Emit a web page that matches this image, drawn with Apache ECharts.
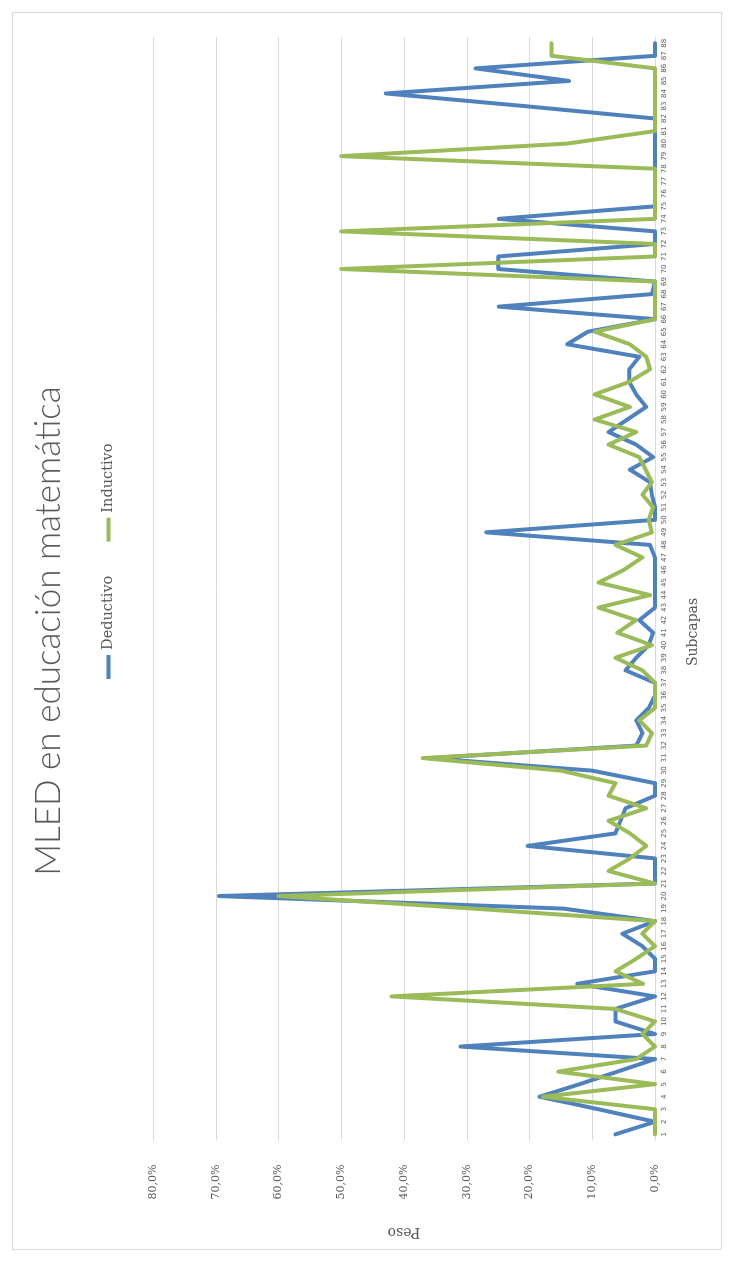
<!DOCTYPE html>
<html><head><meta charset="utf-8">
<script src="https://cdn.jsdelivr.net/npm/echarts@6/dist/echarts.min.js"></script>
<style>
html,body{margin:0;padding:0;background:#fff;overflow:hidden;width:734px;height:1262px;}
#wrap{position:absolute;left:0;top:0;width:1262px;height:734px;transform-origin:0 0;transform:translateY(1262px) rotate(-90deg);}
#chart{width:1262px;height:734px;}
</style></head><body><div id="wrap"><div id="chart"></div></div>
<script>
const titleText = 'MLED en educación matemática';
const seriesNames = ['Deductivo', 'Inductivo'];
const categoryAxisName = 'Subcapas';
const valueAxisName = 'Peso';
const categories = ['1','2','3','4','5','6','7','8','9','10','11','12','13','14','15','16','17','18','19','20',
  '21','22','23','24','25','26','27','28','29','30','31','32','33','34','35','36','37','38','39','40',
  '41','42','43','44','45','46','47','48','49','50','51','52','53','54','55','56','57','58','59','60',
  '61','62','63','64','65','66','67','68','69','70','71','72','73','74','75','76','77','78','79','80',
  '81','82','83','84','85','86','87','88'];
// values in percent
const deductivo = [6.3, 0, 9, 18.4, 12, 6, 0, 31, 0, 6.3, 6.3, 0, 12.4, 0, 0, 2, 5.2, 0, 14.6, 69.5,
  0, 0, 0, 20.3, 6.3, 5.5, 4.7, 0, 0, 10, 36, 3, 2, 3, 1, 0, 0, 4.7, 3, 1,
  0.3, 2.5, 0, 0, 0, 0, 0, 0.8, 26.9, 0, 0, 0.5, 0.8, 4, 0.3, 3, 7.4, 4.4, 1.4, 3,
  4.1, 4.1, 2.5, 14, 10.7, 0, 24.9, 0.5, 0, 25, 25, 0, 0, 24.9, 0, 0, 0, 0, 0, 0,
  0, 0, 21, 42.9, 13.7, 28.6, 0, 0];
const inductivo = [0, 0, 0, 17.9, 0, 15.4, 3, 0, 2, 0, 6.3, 42, 1.9, 6.3, 3, 0, 2, 0, 29, 60,
  0, 7.4, 4, 1.4, 4, 7.4, 1.4, 7.4, 6.3, 15, 37, 1.4, 0.5, 2.5, 0, 0, 0, 2, 6.3, 0.5,
  6, 3, 9, 0.8, 9, 5, 2, 6.3, 0.5, 1, 0.3, 2, 0.5, 1.5, 2.5, 7.4, 3, 9.6, 4, 9.6,
  4.1, 0.8, 1.4, 4, 9.6, 0, 0, 0, 0, 50, 0, 0, 50, 0, 0, 0, 0, 0, 50, 14,
  0, 0, 0, 0, 0, 0, 16.5, 16.5];

const chart = echarts.init(document.getElementById('chart'), null, {renderer: 'canvas'});
const grey = '#595959';
chart.setOption({
  backgroundColor: '#ffffff',
  animation: false,
  graphic: [
    {type: 'rect', shape: {x: 12.5, y: 12.5, width: 1237, height: 709}, style: {fill: 'none', stroke: '#d9d9d9', lineWidth: 1}, silent: true, z: -1},
    {type: 'text', x: 630, y: 686, silent: true,
      style: {text: categoryAxisName, fontFamily: 'DejaVu Serif', fontSize: 14, fill: grey, align: 'center', verticalAlign: 'top'}}
  ],
  title: {
    text: titleText, left: 'center', top: 26,
    textStyle: {fontFamily: 'Lato', fontSize: 35, fontWeight: 300, color: grey}
  },
  legend: {
    data: seriesNames, left: 578, top: 96, itemGap: 34, itemWidth: 24, itemHeight: 4, icon: 'rect',
    textStyle: {fontFamily: 'DejaVu Serif', fontSize: 14.5, color: grey}
  },
  grid: {left: 121.4, right: 37, top: 153, bottom: 79, containLabel: false},
  xAxis: {
    type: 'category', data: categories, boundaryGap: true,
    axisLine: {lineStyle: {color: '#d9d9d9', width: 1}},
    axisTick: {show: false},
    axisLabel: {interval: 0, fontSize: 7, color: grey, margin: 6, fontFamily: 'DejaVu Sans'},
    splitLine: {show: false}
  },
  yAxis: {
    type: 'value', min: 0, max: 80, interval: 10,
    name: valueAxisName, nameLocation: 'middle', nameGap: 84, nameRotate: 90,
    nameTextStyle: {fontFamily: 'DejaVu Serif', fontSize: 14, color: grey},
    axisLine: {show: false}, axisTick: {show: false},
    axisLabel: {fontFamily: 'DejaVu Serif', fontSize: 11, color: grey, margin: 24,
      formatter: v => v.toFixed(1).replace('.', ',') + '%'},
    splitLine: {lineStyle: {color: '#d9d9d9', width: 1}}
  },
  series: [
    {name: seriesNames[0], type: 'line', data: deductivo, symbol: 'none', color: '#4f81bd',
      lineStyle: {width: 4, color: '#4f81bd', cap: 'round', join: 'round'}},
    {name: seriesNames[1], type: 'line', data: inductivo, symbol: 'none', color: '#9bbb59',
      lineStyle: {width: 4, color: '#9bbb59', cap: 'round', join: 'round'}}
  ]
});
</script></body></html>
